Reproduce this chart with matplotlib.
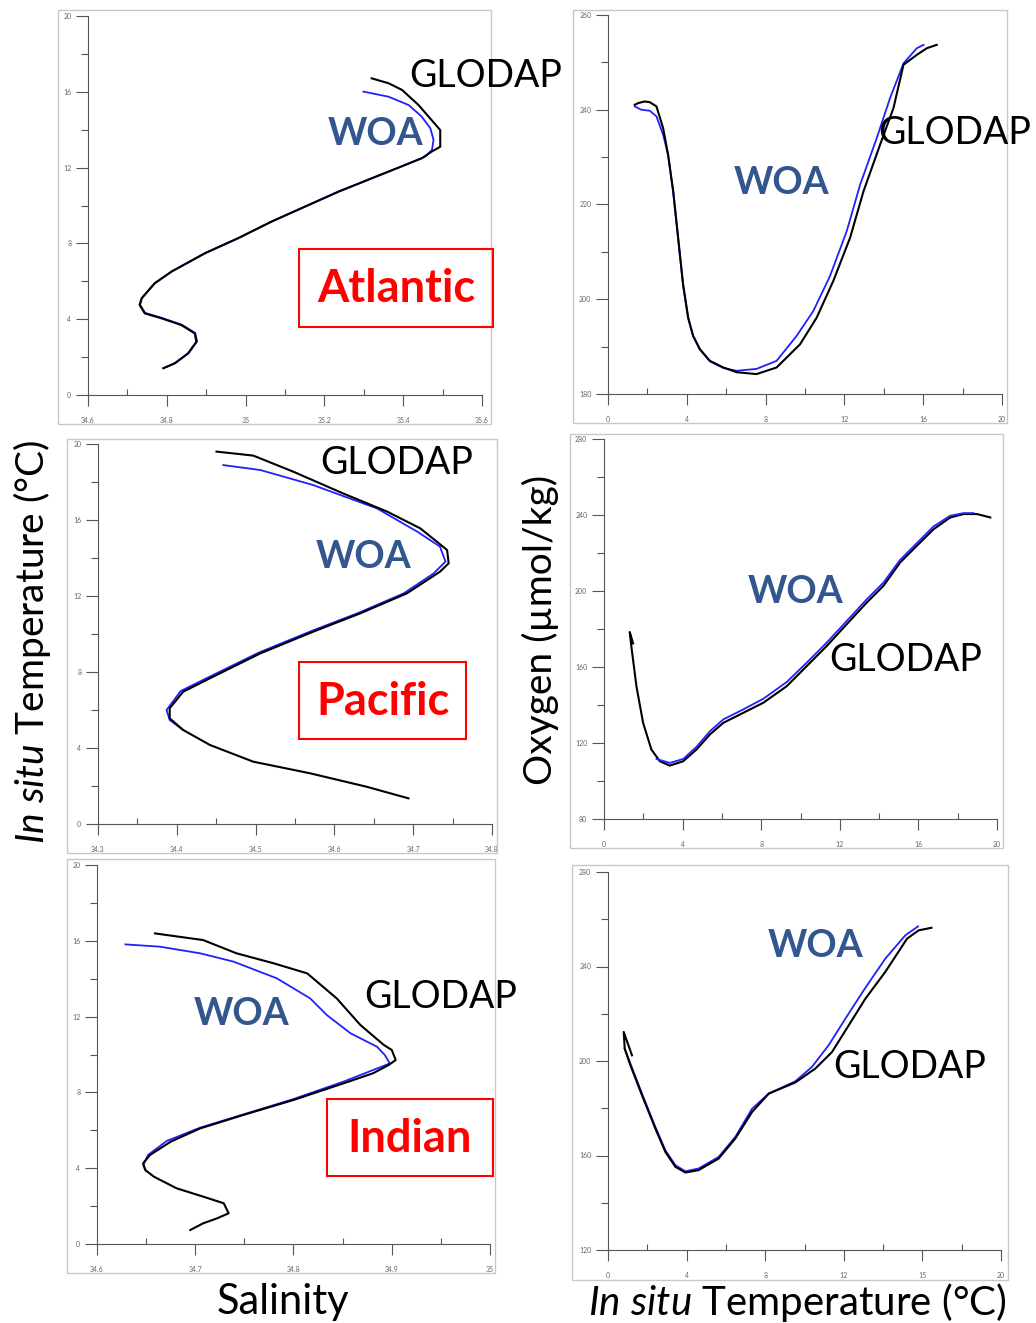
import matplotlib
matplotlib.use("Agg")
import matplotlib.pyplot as plt
from matplotlib.patches import Rectangle

plt.rcParams['font.family'] = ['Lato', 'DejaVu Sans']
plt.rcParams['mathtext.fontset'] = 'custom'
plt.rcParams['mathtext.rm'] = 'Lato'
plt.rcParams['mathtext.it'] = 'Lato:italic'

W, H = 1036, 1323

# ---- Atlantic T-S ----
atl_glodap_s = [34.791, 34.820, 34.854, 34.875, 34.871, 34.837, 34.786, 34.744, 34.731, 34.736,
                34.769, 34.812, 34.897, 34.981, 35.066, 35.151, 35.236, 35.320, 35.405, 35.447,
                35.472, 35.494, 35.494, 35.472, 35.439, 35.397, 35.363, 35.320]
atl_glodap_t = [1.41, 1.67, 2.2, 2.81, 3.25, 3.69, 4.05, 4.31, 4.75, 5.1,
                5.89, 6.51, 7.48, 8.27, 9.15, 9.94, 10.73, 11.43, 12.14, 12.49,
                12.84, 13.1, 13.98, 14.51, 15.3, 16.1, 16.45, 16.71]
atl_woa_s = [34.793, 34.822, 34.856, 34.877, 34.872, 34.838, 34.787, 34.745, 34.732, 34.737,
             34.770, 34.813, 34.898, 34.982, 35.067, 35.152, 35.237, 35.321, 35.400, 35.456,
             35.473, 35.477, 35.469, 35.447, 35.414, 35.363, 35.299]
atl_woa_t = [1.43, 1.69, 2.22, 2.83, 3.27, 3.71, 4.07, 4.33, 4.77, 5.12,
             5.91, 6.53, 7.5, 8.29, 9.17, 9.96, 10.75, 11.45, 12.1, 12.58,
             12.93, 13.46, 14.07, 14.69, 15.30, 15.74, 16.01]

# ---- Atlantic O2-T ----
atl_glodap_ox_t = [1.36, 1.53, 1.86, 2.12, 2.46, 2.80, 3.05, 3.31, 3.56, 3.81, 4.07, 4.32, 4.66, 5.17,
                   5.85, 6.53, 7.54, 8.56, 9.75, 10.59, 11.44, 12.29, 12.97, 13.81, 14.49, 15.0,
                   15.68, 16.19, 16.69]
atl_glodap_ox = [241.05, 241.4, 241.75, 241.6, 240.7, 236.1, 230.5, 222.8, 213.0, 203.2, 196.1, 192.3,
                 189.5, 187.0, 185.6, 184.6, 184.2, 185.6, 190.5, 196.1, 203.9, 213.0, 222.8, 232.6,
                 240.35, 249.5, 251.6, 253.0, 253.7]
atl_woa_ox_t = [1.36, 1.69, 2.12, 2.46, 2.80, 3.05, 3.31, 3.56, 3.81, 4.07, 4.32, 4.66, 5.17, 5.85,
                6.53, 7.54, 8.56, 9.58, 10.42, 11.27, 12.12, 12.80, 13.64, 14.32, 15.0, 15.68, 16.02]
atl_woa_ox = [240.7, 240.0, 239.8, 238.6, 234.7, 230.5, 222.6, 212.8, 203.0, 196.0, 192.2, 189.4,
              186.9, 185.5, 184.9, 185.3, 187.0, 192.3, 197.5, 204.9, 214.4, 224.2, 234.0, 242.5,
              249.8, 253.0, 253.7]

# ---- Pacific T-S ----
pac_glodap_s = [34.4504, 34.497, 34.548, 34.611, 34.667, 34.709, 34.730, 34.743, 34.745, 34.734,
                34.692, 34.633, 34.573, 34.506, 34.442, 34.408, 34.391, 34.391, 34.408, 34.442,
                34.497, 34.569, 34.641, 34.694]
pac_glodap_t = [19.6, 19.39, 18.54, 17.40, 16.44, 15.56, 14.86, 14.42, 13.72, 13.28,
                12.14, 11.09, 10.12, 8.98, 7.67, 6.96, 6.09, 5.56, 4.95, 4.16,
                3.28, 2.67, 1.96, 1.35]
pac_woa_s = [34.459, 34.506, 34.573, 34.654, 34.705, 34.734, 34.741, 34.726, 34.688, 34.631,
             34.571, 34.504, 34.440, 34.405, 34.387, 34.391, 34.407]
pac_woa_t = [18.89, 18.63, 17.84, 16.61, 15.39, 14.6, 13.81, 13.19, 12.14, 11.12,
             10.16, 9.02, 7.72, 7.0, 6.0, 5.47, 4.98]

# ---- Pacific O2-T ----
pac_glodap_ox_t = [1.48, 1.31, 1.39, 1.65, 1.99, 2.41, 2.84, 3.35, 4.03, 4.71, 5.39, 6.07, 7.09, 8.11,
                   9.30, 10.32, 11.33, 12.35, 13.37, 14.22, 15.07, 15.92, 16.77, 17.62, 18.30,
                   18.98, 19.66]
pac_glodap_ox = [172.4, 178.4, 171.0, 149.9, 130.6, 116.6, 110.4, 108.1, 110.4, 116.6, 124.5, 130.6,
                 135.9, 141.2, 149.9, 160.5, 171.0, 182.5, 193.9, 202.7, 215.0, 223.8, 232.5, 238.7,
                 240.5, 240.5, 238.7]
pac_woa_ox_t = [2.67, 3.35, 4.03, 4.71, 5.39, 6.07, 7.09, 8.11, 9.30, 10.32, 11.33, 12.35, 13.37,
                14.22, 15.07, 15.92, 16.77, 17.62, 18.30, 18.81]
pac_woa_ox = [111.6, 109.5, 111.6, 118.0, 126.2, 132.4, 137.7, 143.3, 152.1, 162.3, 172.8, 184.2,
              195.6, 204.4, 216.4, 225.2, 234.0, 239.6, 241.0, 241.0]

# ---- Indian T-S ----
ind_glodap_s = [34.659, 34.708, 34.742, 34.780, 34.814, 34.844, 34.868, 34.892, 34.900, 34.904,
                34.897, 34.881, 34.851, 34.800, 34.749, 34.705, 34.675, 34.654, 34.647, 34.649,
                34.658, 34.681, 34.708, 34.729, 34.734, 34.722, 34.708, 34.695]
ind_glodap_t = [16.39, 16.04, 15.34, 14.81, 14.28, 12.96, 11.56, 10.50, 10.24, 9.71,
                9.45, 9.01, 8.48, 7.60, 6.81, 6.10, 5.40, 4.70, 4.26, 3.91,
                3.55, 2.94, 2.50, 2.15, 1.62, 1.35, 1.09, 0.74]
ind_woa_s = [34.629, 34.664, 34.705, 34.739, 34.783, 34.817, 34.834, 34.858, 34.885, 34.893,
             34.898, 34.881, 34.851, 34.800, 34.749, 34.705, 34.671, 34.652, 34.647, 34.650]
ind_woa_t = [15.81, 15.69, 15.34, 14.90, 14.02, 12.96, 12.08, 11.12, 10.41, 9.97,
             9.53, 9.18, 8.57, 7.65, 6.84, 6.14, 5.44, 4.70, 4.17, 3.85]

# ---- Indian O2-T ----
ind_glodap_ox_t = [1.22, 0.80, 0.85, 1.14, 1.73, 2.41, 2.92, 3.43, 3.94, 4.61, 5.63, 6.48, 7.33,
                   8.18, 9.53, 10.55, 11.40, 12.25, 13.10, 14.11, 15.22, 15.81, 16.46]
ind_glodap_ox = [202.4, 212.3, 205.2, 198.2, 185.5, 171.4, 161.5, 155.2, 152.8, 153.8, 158.7, 167.2,
                 178.4, 186.2, 190.9, 196.8, 203.8, 215.1, 226.4, 237.7, 251.8, 255.3, 256.4]
ind_woa_ox_t = [0.85, 1.14, 1.73, 2.41, 2.92, 3.43, 3.94, 4.61, 5.63, 6.48, 7.33, 8.18, 9.53,
                10.38, 11.23, 12.08, 13.01, 14.11, 15.13, 15.78]
ind_woa_ox = [205.2, 198.9, 186.2, 172.1, 162.2, 155.9, 153.3, 154.5, 159.4, 167.9, 179.8, 186.2,
              191.4, 197.5, 206.7, 217.9, 229.9, 243.3, 253.2, 257.0]

# axis ticks
sal_atl_ticks = [34.6, 34.8, 35.0, 35.2, 35.4, 35.6]
sal_atl_labels = ['34.6', '34.8', '35', '35.2', '35.4', '35.6']
sal_pac_ticks = [34.3, 34.4, 34.5, 34.6, 34.7, 34.8]
sal_pac_labels = ['34.3', '34.4', '34.5', '34.6', '34.7', '34.8']
sal_ind_ticks = [34.6, 34.7, 34.8, 34.9, 35.0]
sal_ind_labels = ['34.6', '34.7', '34.8', '34.9', '35']
temp_ticks = [0, 4, 8, 12, 16, 20]


def px_box(x0, y0, x1, y1):
    return [x0 / W, 1 - y1 / H, (x1 - x0) / W, (y1 - y0) / H]


fig = plt.figure(figsize=(W / 100, H / 100), dpi=100)
fig.patch.set_facecolor('white')

frames = [(58, 10, 491, 424), (573, 10, 1007, 423), (67, 439, 497, 853),
          (570, 434, 1003, 848), (67, 859, 495, 1273), (572, 865, 1008, 1280)]
for x0, y0, x1, y1 in frames:
    fig.add_artist(Rectangle((x0 / W, 1 - y1 / H), (x1 - x0) / W, (y1 - y0) / H,
                             transform=fig.transFigure, fill=False, ec='#c8c8c8', lw=1.0))


def make_ax(box, xlim, ylim, xt, xl, yt, xminor, yminor):
    ax = fig.add_axes(px_box(*box))
    ax.set_facecolor('none')
    ax.set_xlim(*xlim)
    ax.set_ylim(*ylim)
    for s in ['top', 'right']:
        ax.spines[s].set_visible(False)
    for s in ['left', 'bottom']:
        ax.spines[s].set_color('#555555')
        ax.spines[s].set_linewidth(0.8)
    ax.set_xticks(xt)
    ax.set_xticklabels(xl)
    ax.set_yticks(yt)
    ax.set_yticklabels([str(v) for v in yt])
    ax.set_xticks(xminor, minor=True)
    ax.set_yticks(yminor, minor=True)
    ax.tick_params(axis='x', which='major', direction='out', length=8, width=0.8,
                   color='#555555', labelsize=5, labelcolor='#666666', pad=8)
    ax.tick_params(axis='x', which='minor', direction='in', length=4, width=0.8, color='#555555')
    ax.tick_params(axis='y', which='major', direction='out', length=9, width=0.8,
                   color='#555555', labelsize=5, labelcolor='#666666', pad=3)
    ax.tick_params(axis='y', which='minor', direction='out', length=5, width=0.8, color='#555555')
    return ax


t_minor = [2, 6, 10, 14, 18]
ax1 = make_ax((88, 16, 482, 395), (34.6, 35.6), (0, 20), sal_atl_ticks, sal_atl_labels,
              [0, 4, 8, 12, 16, 20], [34.7, 34.9, 35.1, 35.3, 35.5], t_minor)
ax1.plot(atl_woa_s, atl_woa_t, color='#2020ff', lw=1.3)
ax1.plot(atl_glodap_s, atl_glodap_t, color='black', lw=1.5)

ax2 = make_ax((608, 15, 1002, 394), (0, 20), (180, 260), temp_ticks, [str(v) for v in temp_ticks],
              [180, 200, 220, 240, 260], t_minor, [190, 210, 230, 250])
ax2.plot(atl_woa_ox_t, atl_woa_ox, color='#2020ff', lw=1.3)
ax2.plot(atl_glodap_ox_t, atl_glodap_ox, color='black', lw=1.5)

ax3 = make_ax((98, 444, 492, 824), (34.3, 34.8), (0, 20), sal_pac_ticks, sal_pac_labels,
              [0, 4, 8, 12, 16, 20], [34.35, 34.45, 34.55, 34.65, 34.75], t_minor)
ax3.plot(pac_woa_s, pac_woa_t, color='#2020ff', lw=1.3)
ax3.plot(pac_glodap_s, pac_glodap_t, color='black', lw=1.5)

ax4 = make_ax((604, 439, 997, 819), (0, 20), (80, 280), temp_ticks, [str(v) for v in temp_ticks],
              [80, 120, 160, 200, 240, 280], t_minor, [100, 140, 180, 220, 260])
ax4.plot(pac_glodap_ox_t, pac_glodap_ox, color='black', lw=1.5)
ax4.plot(pac_woa_ox_t, pac_woa_ox, color='#2020ff', lw=1.3)

ax5 = make_ax((97, 865, 490, 1244), (34.6, 35.0), (0, 20), sal_ind_ticks, sal_ind_labels,
              [0, 4, 8, 12, 16, 20], [34.65, 34.75, 34.85, 34.95], t_minor)
ax5.plot(ind_woa_s, ind_woa_t, color='#2020ff', lw=1.3)
ax5.plot(ind_glodap_s, ind_glodap_t, color='black', lw=1.5)

ax6 = make_ax((608, 872, 1001, 1250), (0, 20), (120, 280), temp_ticks, ['0', '4', '8', '12', '15', '20'],
              [120, 160, 200, 240, 280], t_minor, [140, 180, 220, 260])
ax6.plot(ind_woa_ox_t, ind_woa_ox, color='#2020ff', lw=1.3)
ax6.plot(ind_glodap_ox_t, ind_glodap_ox, color='black', lw=1.5)


def ftext(px, py, s, **kw):
    fig.text(px / W, 1 - py / H, s, ha='center', va='center', **kw)


woa_color = '#33568f'
# GLODAP / WOA labels
for px, py in [(486, 76), (955, 133), (397, 463), (906, 660), (441, 997), (910, 1067)]:
    ftext(px, py, 'GLODAP', fontsize=27, color='black')
for px, py in [(375, 134), (782, 183), (363, 557), (796, 592), (241, 1014), (816, 946)]:
    ftext(px, py, 'WOA', fontsize=27, fontweight='bold', color=woa_color)

# ocean name boxes
for (x0, y0, x1, y1), name in [((299, 249, 493, 327), 'Atlantic'),
                               ((299, 662, 466, 739), 'Pacific'),
                               ((327, 1099, 493, 1176), 'Indian')]:
    fig.add_artist(Rectangle((x0 / W, 1 - y1 / H), (x1 - x0) / W, (y1 - y0) / H,
                             transform=fig.transFigure, fill=False, ec='red', lw=1.5))
    ftext((x0 + x1) / 2, (y0 + y1) / 2 + 1, name, fontsize=32.5, fontweight='bold', color='red')

# axis titles
ftext(32, 642, r'$\mathit{In\ situ}$ Temperature (°C)', fontsize=28, rotation=90)
ftext(540, 630, 'Oxygen (µmol/kg)', fontsize=28, rotation=90)
ftext(283, 1302, 'Salinity', fontsize=30)
ftext(797, 1302, r'$\mathit{In\ situ}$ Temperature (°C)', fontsize=29)

fig.savefig('out.png', dpi=100, facecolor='white')
